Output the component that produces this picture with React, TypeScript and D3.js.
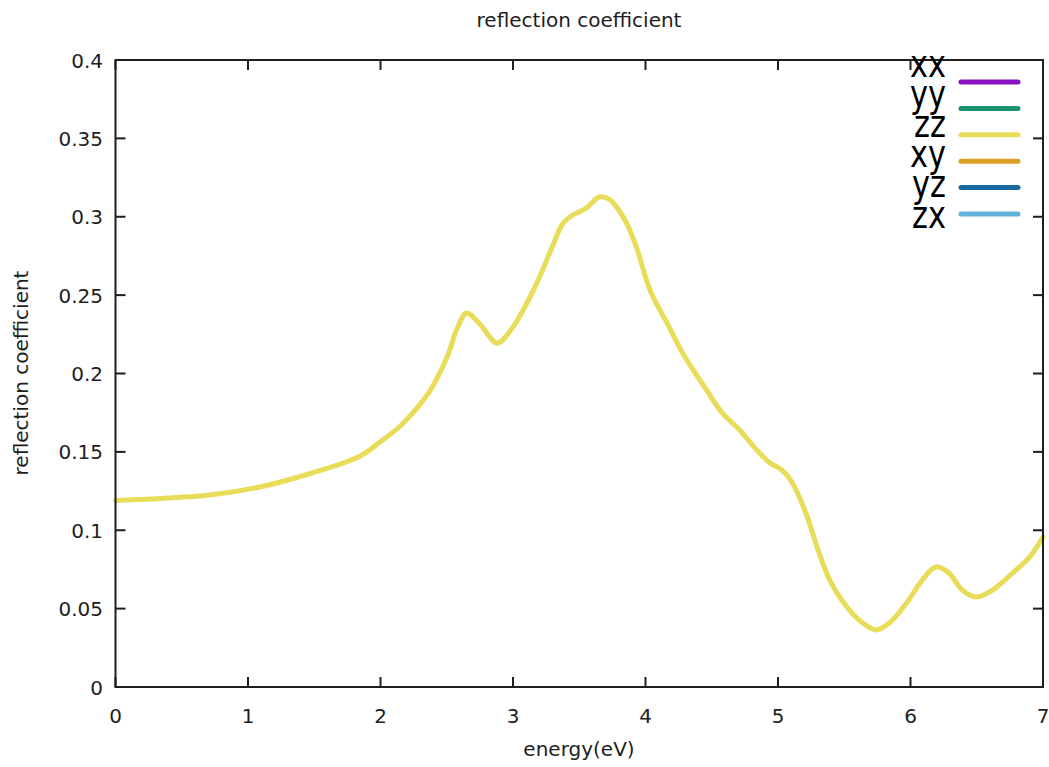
import React from "react";
import * as d3 from "d3";

// Photon energy (eV) and reflection coefficient of the diagonal components
const energy = [
  0, 0.71, 1.09, 1.47, 1.84, 2.0, 2.15, 2.24, 2.37, 2.5, 2.58, 2.65, 2.75, 2.88,
  3.0, 3.13, 3.2, 3.3, 3.375, 3.45, 3.555, 3.65, 3.73, 3.8, 3.86, 3.93, 4.04,
  4.17, 4.28, 4.46, 4.58, 4.71, 4.84, 4.94, 5.03, 5.11, 5.21, 5.3, 5.39, 5.52,
  5.64, 5.74, 5.84, 5.97, 6.09, 6.19, 6.29, 6.39, 6.5, 6.62, 6.77, 6.9, 7.0,
];
const reflection = [
  0.119, 0.1225, 0.1276, 0.1362, 0.147, 0.1565, 0.1665, 0.1745, 0.1885, 0.21,
  0.229, 0.2386, 0.2315, 0.2195, 0.2297, 0.249, 0.2615, 0.2815, 0.2955, 0.301,
  0.3056, 0.3126, 0.311, 0.304, 0.2955, 0.281, 0.252, 0.231, 0.2131, 0.1895,
  0.1748, 0.164, 0.1512, 0.1429, 0.1384, 0.13, 0.111, 0.088, 0.0683, 0.051,
  0.0408, 0.0364, 0.0408, 0.0536, 0.0683, 0.0766, 0.0727, 0.0619, 0.0574,
  0.0619, 0.0727, 0.083, 0.0957,
];

const legendLabels = ["xx", "yy", "zz", "xy", "yz", "zx"];
const legendColors = ["#8a12c2", "#1a9272", "#e8dc58", "#d8a024", "#1a6aa2", "#62b2da"];

const xTicks = [0, 1, 2, 3, 4, 5, 6, 7];
const yTicks = [0, 0.05, 0.1, 0.15, 0.2, 0.25, 0.3, 0.35, 0.4];
const yTickLabels = ["0", "0.05", "0.1", "0.15", "0.2", "0.25", "0.3", "0.35", "0.4"];

const W = 1049;
const H = 767;
const left = 115.5;
const right = 1043;
const top = 60;
const bottom = 687;
const font = "'DejaVu Sans', Verdana, sans-serif";
const ink = "#1e1e1e";

export default function App() {
  const x = d3.scaleLinear().domain([0, 7]).range([left, right]);
  const y = d3.scaleLinear().domain([0, 0.4]).range([bottom, top]);

  const pts: [number, number][] = energy.map((e, i) => [e, reflection[i]]);
  const line = d3
    .line<[number, number]>()
    .x((d) => x(d[0]))
    .y((d) => y(d[1]))
    .curve(d3.curveCatmullRom.alpha(0.5));
  const path = line(pts) || "";

  const tickLen = 10;

  return (
    <svg
      width={W}
      height={H}
      style={{ position: "absolute", left: 0, top: 0, background: "#fff" }}
    >
      <rect x={0} y={0} width={W} height={H} fill="#fff" />

      {/* title */}
      <text x={579} y={27} textAnchor="middle" fontFamily={font} fontSize={20} fill={ink}>
        reflection coefficient
      </text>

      {/* the diagonal components coincide; only the top (zz) trace shows */}
      <path
        d={path}
        fill="none"
        stroke={legendColors[2]}
        strokeWidth={5}
        strokeLinejoin="round"
        strokeLinecap="round"
      />

      {/* frame */}
      <rect
        x={left}
        y={top}
        width={right - left}
        height={bottom - top}
        fill="none"
        stroke={ink}
        strokeWidth={2}
      />

      {/* x ticks, mirrored on top */}
      {xTicks.map((t) => (
        <g key={"x" + t}>
          <line x1={x(t)} x2={x(t)} y1={bottom} y2={bottom - tickLen} stroke={ink} strokeWidth={2} />
          <line x1={x(t)} x2={x(t)} y1={top} y2={top + tickLen} stroke={ink} strokeWidth={2} />
          <text
            x={x(t)}
            y={723}
            textAnchor="middle"
            fontFamily={font}
            fontSize={20}
            fill={ink}
          >
            {t}
          </text>
        </g>
      ))}

      {/* y ticks, mirrored on right */}
      {yTicks.map((t, i) => (
        <g key={"y" + t}>
          <line x1={left} x2={left + tickLen} y1={y(t)} y2={y(t)} stroke={ink} strokeWidth={2} />
          <line x1={right} x2={right - tickLen} y1={y(t)} y2={y(t)} stroke={ink} strokeWidth={2} />
          <text
            x={103}
            y={y(t) + 7.5}
            textAnchor="end"
            fontFamily={font}
            fontSize={20}
            fill={ink}
          >
            {yTickLabels[i]}
          </text>
        </g>
      ))}

      {/* axis labels */}
      <text x={579} y={756} textAnchor="middle" fontFamily={font} fontSize={20} fill={ink}>
        energy(eV)
      </text>
      <text
        transform={`translate(28, 373) rotate(-90)`}
        textAnchor="middle"
        fontFamily={font}
        fontSize={20}
        fill={ink}
      >
        reflection coefficient
      </text>

      {/* legend */}
      {legendLabels.map((lab, i) => {
        const ty = 66 + i * 30.2;
        const ly = 82 + i * 26.4;
        return (
          <g key={lab}>
            <text
              transform={`translate(946, ${ty + 10.5}) scale(0.8, 1)`}
              textAnchor="end"
              fontFamily={font}
              fontSize={38}
              fill="#000"
            >
              {lab}
            </text>
            <line
              x1={961}
              x2={1018}
              y1={ly}
              y2={ly}
              stroke={legendColors[i]}
              strokeWidth={5}
              strokeLinecap="round"
            />
          </g>
        );
      })}
    </svg>
  );
}
